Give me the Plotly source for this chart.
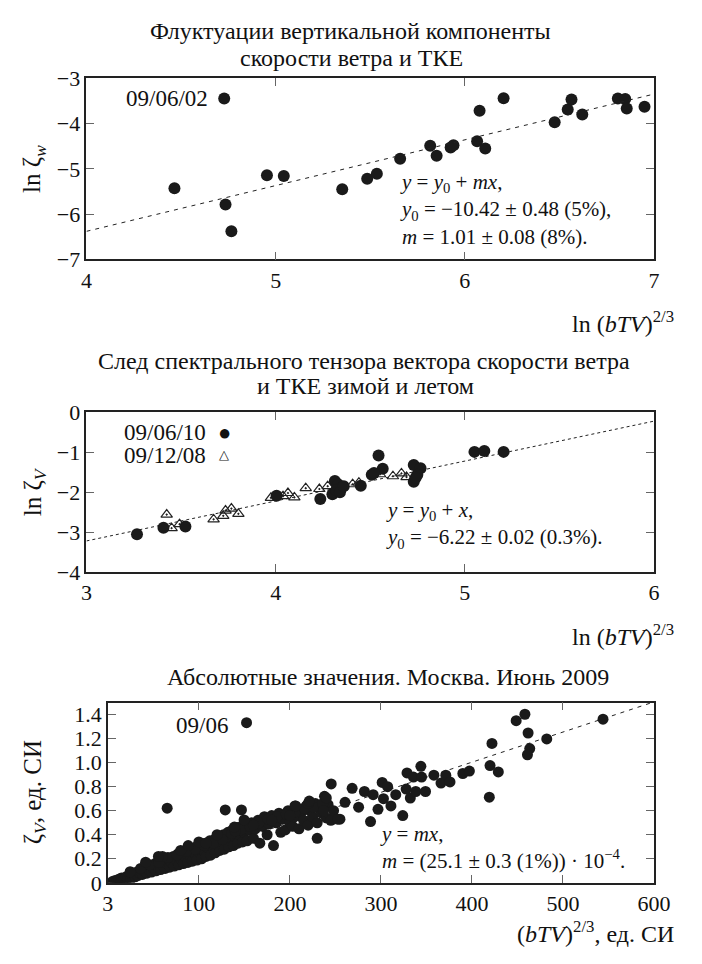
import plotly.graph_objects as go

# ---------------- data: panel 1 ----------------
p1_x = [4.728, 4.465, 4.735, 4.766, 4.954, 5.043, 5.352, 5.484, 5.535, 5.658,
        5.817, 5.851, 5.925, 5.94, 6.065, 6.108, 6.078, 6.205, 6.475, 6.544,
        6.564, 6.621, 6.809, 6.848, 6.856, 6.95]
p1_y = [-3.45, -5.43, -5.79, -6.38, -5.14, -5.16, -5.45, -5.22, -5.11, -4.78,
        -4.49, -4.71, -4.53, -4.48, -4.39, -4.55, -3.72, -3.44, -3.97, -3.69,
        -3.47, -3.80, -3.45, -3.46, -3.67, -3.63]
p1_fit = {"y0": -10.42, "m": 1.01}

# ---------------- data: panel 2 ----------------
p2_sum_x = [3.267, 3.407, 3.523, 4.005, 4.236, 4.30, 4.313, 4.33, 4.347, 4.32, 4.34,
            4.36, 4.45, 4.508, 4.544, 4.566, 4.52, 4.73, 4.766, 4.749, 4.73, 4.74,
            5.051, 5.103, 5.205]
p2_sum_y = [-3.05, -2.89, -2.86, -2.09, -2.17, -2.05, -1.72, -1.80, -1.89, -1.95, -2.0,
            -1.85, -1.84, -1.56, -1.08, -1.41, -1.52, -1.32, -1.40, -1.56, -1.74, -1.64,
            -0.99, -0.97, -0.99]
p2_win_x = [3.424, 3.45, 3.492, 3.672, 3.723, 3.735, 3.766, 3.803, 3.975, 4.039,
            4.065, 4.099, 4.159, 4.231, 4.275, 4.407, 4.44, 4.552, 4.62, 4.665, 4.692]
p2_win_y = [-2.56, -2.90, -2.80, -2.68, -2.59, -2.46, -2.41, -2.54, -2.14, -2.10,
            -2.02, -2.13, -1.90, -1.92, -1.85, -1.80, -1.76, -1.55, -1.60, -1.53, -1.62]
p2_fit = {"y0": -6.22, "m": 1.0}

# ---------------- data: panel 3 ----------------
p3_x = [5, 8, 10, 12, 14, 15, 18, 20, 22, 24, 25, 27, 28, 30, 32, 33, 35, 37, 38, 40,
        42, 43, 45, 47, 48, 50, 52, 53, 55, 57, 58, 60, 62, 63, 65, 67, 68, 70, 72, 73,
        75, 77, 78, 80, 82, 83, 85, 87, 88, 90, 92, 93, 95, 97, 98, 100, 102, 103, 105,
        107, 108, 110, 112, 113, 115, 117, 118, 120, 122, 123, 125, 127, 128, 130, 132,
        133, 135, 137, 138, 140, 142, 143, 145, 147, 148, 150, 152, 153, 155, 158, 160,
        162, 165, 167, 170, 172, 175, 177, 180, 182, 185, 188, 190, 192, 195, 198, 200,
        203, 205, 208, 210, 212, 215, 218, 220, 222, 225, 228, 230, 232, 235, 238, 240,
        242, 245, 248, 255,
        36, 46, 56, 66, 76, 86, 96, 106, 116, 126, 136, 146, 156, 166, 176, 186, 196,
        206, 216, 226, 236, 60, 80, 100, 120, 140, 160, 180, 200, 220,
        152.4, 65.2, 129, 146.8, 205.6, 41.5, 55.6, 88.3, 107.8, 149.7, 139, 24.5,
        245.4, 206.4, 221.3, 240, 237, 230, 252.5, 260.6, 268.4, 275.5, 281.9, 288.6,
        291.5, 296.8, 301.4, 302.8, 307.4, 311, 316.3, 324, 328.7, 327.7, 332.3, 335.7,
        343.9, 344.7, 338.3, 349, 358.2, 366, 371.3, 375.9, 390, 397.2,
        419.9, 429, 422, 419.1, 448.6, 458.2, 461.7, 463.5, 461, 482.2, 544]
p3_y = [0.01, 0.02, 0.015, 0.03, 0.02, 0.04, 0.03, 0.05, 0.04, 0.07, 0.03, 0.06, 0.08,
        0.05, 0.09, 0.06, 0.08, 0.11, 0.07, 0.10, 0.13, 0.08, 0.11, 0.14, 0.09, 0.12,
        0.16, 0.10, 0.13, 0.18, 0.11, 0.15, 0.19, 0.12, 0.16, 0.20, 0.13, 0.17, 0.22,
        0.14, 0.19, 0.24, 0.15, 0.20, 0.25, 0.16, 0.22, 0.27, 0.17, 0.23, 0.28, 0.18,
        0.25, 0.30, 0.19, 0.26, 0.31, 0.20, 0.27, 0.33, 0.22, 0.29, 0.35, 0.23, 0.30,
        0.36, 0.25, 0.32, 0.38, 0.27, 0.34, 0.40, 0.28, 0.35, 0.42, 0.30, 0.37, 0.44,
        0.31, 0.38, 0.46, 0.33, 0.40, 0.47, 0.34, 0.42, 0.48, 0.35, 0.44, 0.50, 0.37,
        0.45, 0.52, 0.33, 0.47, 0.55, 0.40, 0.49, 0.56, 0.31, 0.50, 0.58, 0.42, 0.53,
        0.44, 0.60, 0.50, 0.47, 0.55, 0.62, 0.45, 0.58, 0.52, 0.64, 0.48, 0.60, 0.55,
        0.66, 0.50, 0.62, 0.58, 0.72, 0.54, 0.65, 0.52, 0.60, 0.53,
        0.12, 0.15, 0.17, 0.21, 0.23, 0.26, 0.28, 0.31, 0.33, 0.36, 0.41, 0.44, 0.47,
        0.50, 0.53, 0.55, 0.57, 0.59, 0.62, 0.63, 0.66, 0.22, 0.27, 0.34, 0.40, 0.43,
        0.48, 0.52, 0.56, 0.66,
        1.333, 0.621, 0.607, 0.607, 0.64, 0.172, 0.22, 0.31, 0.33, 0.523, 0.464, 0.092,
        0.823, 0.64, 0.68, 0.707, 0.60, 0.37, 0.53, 0.67, 0.787, 0.63, 0.76, 0.51,
        0.734, 0.612, 0.836, 0.70, 0.80, 0.64, 0.734, 0.56, 0.915, 0.78, 0.706, 0.88,
        0.97, 0.88, 0.76, 0.76, 0.896, 0.83, 0.896, 0.84, 0.91, 0.93,
        0.976, 0.923, 1.16, 0.713, 1.35, 1.403, 1.247, 1.117, 1.066, 1.198, 1.362]
p3_fit = {"m": 25.1e-4}

x1_ticks = [4, 5, 6, 7]
y1_ticks = [-7, -6, -5, -4, -3]
x2_ticks = [3, 4, 5, 6]
y2_ticks = [-4, -3, -2, -1, 0]
x3_ticks = [0, 100, 200, 300, 400, 500, 600]
x3_text = ["3", "100", "200", "300", "400", "500", "600"]
y3_ticks = [0, 0.2, 0.4, 0.6, 0.8, 1.0, 1.2, 1.4]
y3_text = ["0", "0.2", "0.4", "0.6", "0.8", "1.0", "1.2", "1.4"]

W, H = 702, 964
FONT = "Liberation Serif, Times New Roman, serif"


def px(x):
    return x / W


def py(y):
    return 1 - y / H


fig = go.Figure()

# panel 1
fig.add_trace(go.Scatter(x=p1_x, y=p1_y, mode="markers", xaxis="x", yaxis="y",
                         marker=dict(color="#1a1a1a", size=12), showlegend=False))
fx1 = [x1_ticks[0], x1_ticks[-1]]
fig.add_trace(go.Scatter(x=fx1, y=[p1_fit["y0"] + p1_fit["m"] * v for v in fx1],
                         mode="lines", xaxis="x", yaxis="y",
                         line=dict(color="#222", width=1, dash="4px,5px"), showlegend=False))
# panel 2
fx2 = [x2_ticks[0], x2_ticks[-1]]
fig.add_trace(go.Scatter(x=fx2, y=[p2_fit["y0"] + p2_fit["m"] * v for v in fx2],
                         mode="lines", xaxis="x2", yaxis="y2",
                         line=dict(color="#222", width=1, dash="dot"), showlegend=False))
fig.add_trace(go.Scatter(x=p2_win_x, y=p2_win_y, mode="markers", xaxis="x2", yaxis="y2",
                         marker=dict(symbol="triangle-up-open-dot", color="#222", size=10,
                                     line=dict(width=1.2, color="#222")), showlegend=False))
fig.add_trace(go.Scatter(x=p2_sum_x, y=p2_sum_y, mode="markers", xaxis="x2", yaxis="y2",
                         marker=dict(color="#1a1a1a", size=12), showlegend=False))
# panel 3
fx3 = [x3_ticks[0], x3_ticks[-1]]
fig.add_trace(go.Scatter(x=fx3, y=[p3_fit["m"] * v for v in fx3],
                         mode="lines", xaxis="x3", yaxis="y3",
                         line=dict(color="#222", width=1, dash="4px,5px"), showlegend=False))
fig.add_trace(go.Scatter(x=p3_x, y=p3_y, mode="markers", xaxis="x3", yaxis="y3",
                         marker=dict(color="#1a1a1a", size=11), showlegend=False))


def axis(rng, dom, anchor, tickvals, ticktext=None):
    d = dict(range=rng, domain=dom, anchor=anchor, showline=True, linewidth=1.6,
             linecolor="#222", mirror="ticks", ticks="inside", ticklen=8, tickwidth=1,
             tickcolor="#666", showgrid=False, zeroline=False, tickvals=tickvals,
             tickfont=dict(family=FONT, size=22, color="#111"), fixedrange=True)
    if ticktext is not None:
        d["ticktext"] = ticktext
    return d


xl, xr = px(84), px(669)
fig.update_layout(
    width=W, height=H, autosize=False,
    margin=dict(l=0, r=0, t=0, b=0),
    paper_bgcolor="white", plot_bgcolor="white",
    xaxis=axis([4, 7], [xl, xr], "y", x1_ticks),
    yaxis=axis([-7, -3], [py(254), py(68)], "x", y1_ticks),
    xaxis2=axis([3, 6], [xl, xr], "y2", x2_ticks),
    yaxis2=axis([-4, 0], [py(575), py(411)], "x2", y2_ticks),
    xaxis3=axis([0, 600], [px(106), xr], "y3", x3_ticks, x3_text),
    yaxis3=axis([0, 1.5], [py(894), py(709)], "x3", y3_ticks, y3_text),
)

ann = []


def t(text, x, y, size=22, xanchor="center", yanchor="middle", angle=0):
    ann.append(dict(text=text, x=x, y=y, xref="paper", yref="paper", xanchor=xanchor,
                    yanchor=yanchor, showarrow=False, textangle=angle, align="left",
                    font=dict(family=FONT, size=size, color="#111")))


# titles
t("Флуктуации вертикальной компоненты", px(356), py(20), 24)
t("скорости ветра и ТКЕ", px(357), py(47), 24)
t("След спектрального тензора вектора скорости ветра", px(370), py(358), 24)
t("и ТКЕ зимой и летом", px(372), py(384), 24)
t("Абсолютные значения. Москва. Июнь 2009", px(395), py(683), 24)

# axis titles
t("ln ζ<sub><i>w</i></sub>", px(30), py(161), 25, angle=-90)
t("ln ζ<sub><i>V</i></sub>", px(30), py(493), 25, angle=-90)
t("ζ<sub><i>V</i></sub>, ед. СИ", px(30), py(801), 25, angle=-90)
t("ln (<i>bTV</i>)<sup>2/3</sup>", px(692), py(318), 24, xanchor="right")
t("ln (<i>bTV</i>)<sup>2/3</sup>", px(692), py(640), 24, xanchor="right")
t("(<i>bTV</i>)<sup>2/3</sup>, ед. СИ", px(692), py(944), 24, xanchor="right")

# labels
t("09/06/02", px(211), py(89), 23, xanchor="right")
t("09/06/10", px(209), py(432), 23, xanchor="right")
t("●", px(226), py(432), 22)
t("09/12/08", px(209), py(455), 23, xanchor="right")
t("△", px(226), py(454), 13)
t("09/06", px(232), py(733), 23, xanchor="right")

# formulas
t("<i>y</i> = <i>y</i><sub>0</sub> + <i>mx</i>,<br>"
  "<i>y</i><sub>0</sub> = −10.42 ± 0.48 (5%),<br>"
  "<i>m</i> = 1.01 ± 0.08 (8%).", px(405), py(203), 21, xanchor="left")
t("<i>y</i> = <i>y</i><sub>0</sub> + <i>x</i>,<br>"
  "<i>y</i><sub>0</sub> = −6.22 ± 0.02 (0.3%).", px(391), py(527), 21, xanchor="left")
t("<i>y</i> = <i>mx</i>,<br>"
  "<i>m</i> = (25.1 ± 0.3 (1%)) · 10<sup>−4</sup>.", px(385), py(858), 21, xanchor="left")

fig.update_layout(annotations=ann)
fig.write_html("out.html")
